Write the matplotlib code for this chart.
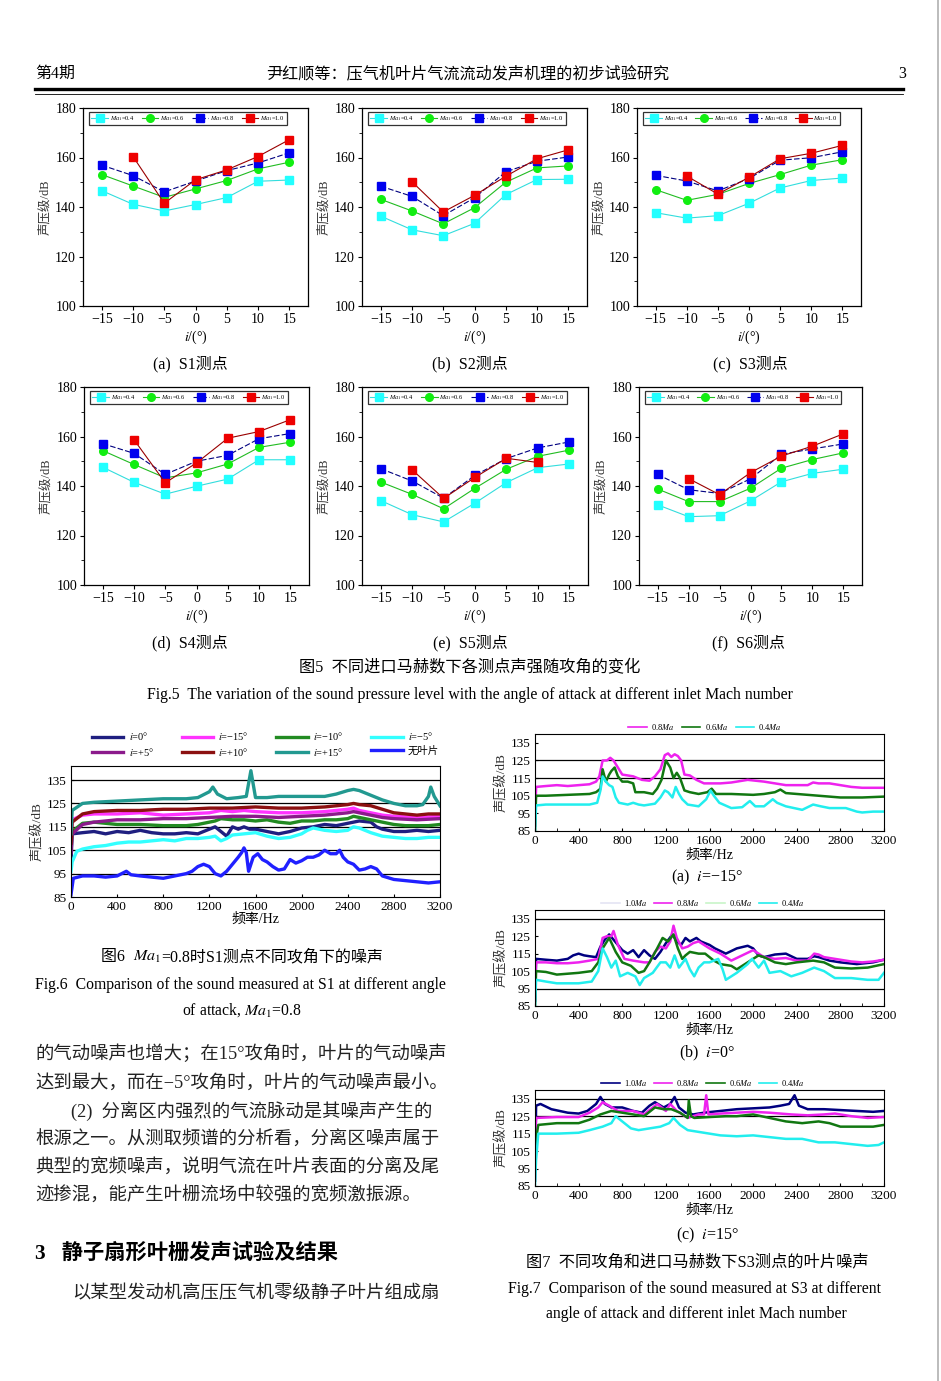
import matplotlib.pyplot as plt
from matplotlib.lines import Line2D
import numpy as np

plt.rcParams['font.family'] = ['Liberation Serif', 'Noto Sans CJK SC']
plt.rcParams['mathtext.fontset'] = 'stix'
plt.rcParams['axes.unicode_minus'] = True

# ---------------- 图5 数据：攻角 - 声压级 ----------------
angles = [-15, -10, -5, 0, 5, 10, 15]
ma_labels = [r'$Ma_1$=0.4', r'$Ma_1$=0.6', r'$Ma_1$=0.8', r'$Ma_1$=1.0']
nan = np.nan

s1_04 = [146.6, 141.1, 138.4, 141.0, 143.8, 150.4, 150.9]
s1_06 = [153.1, 148.5, 143.9, 147.3, 150.7, 155.4, 158.1]
s1_08 = [156.9, 152.7, 146.1, 150.5, 154.7, 157.8, 161.9]
s1_10 = [nan, 160.4, 141.5, 151.0, 155.0, 160.4, 167.2]

s2_04 = [136.3, 130.8, 128.4, 133.4, 145.0, 151.1, 151.2]
s2_06 = [143.1, 138.4, 133.2, 139.7, 150.0, 155.8, 156.6]
s2_08 = [148.4, 144.3, 136.5, 143.7, 154.2, 158.5, 160.2]
s2_10 = [nan, 150.2, 138.0, 144.7, 152.4, 159.5, 163.1]

s3_04 = [137.7, 135.5, 136.5, 141.5, 147.7, 150.7, 151.7]
s3_06 = [147.0, 142.7, 145.1, 149.5, 153.1, 156.9, 159.1]
s3_08 = [152.8, 150.5, 146.5, 151.5, 158.9, 159.9, 162.3]
s3_10 = [nan, 152.5, 145.2, 152.0, 159.5, 161.7, 164.9]

s4_04 = [147.6, 141.5, 136.7, 139.9, 142.8, 150.6, 150.6]
s4_06 = [154.3, 148.7, 143.3, 145.3, 148.9, 155.6, 157.7]
s4_08 = [157.1, 153.2, 144.7, 150.0, 152.4, 159.1, 161.2]
s4_10 = [nan, 158.7, 141.3, 149.3, 159.3, 162.0, 166.8]

s5_04 = [134.1, 128.4, 125.5, 133.1, 141.4, 147.4, 148.9]
s5_06 = [141.6, 136.6, 130.8, 139.1, 146.8, 152.0, 154.5]
s5_08 = [147.0, 142.0, 135.1, 144.3, 151.1, 155.4, 157.8]
s5_10 = [nan, 146.5, 135.0, 143.5, 151.2, 149.5, nan]

s6_04 = [132.4, 127.6, 128.0, 134.0, 141.7, 145.1, 146.8]
s6_06 = [138.8, 133.7, 133.7, 139.1, 147.2, 150.7, 153.4]
s6_08 = [144.7, 138.5, 137.0, 142.9, 152.8, 155.0, 157.0]
s6_10 = [nan, 143.0, 136.5, 145.4, 152.1, 156.1, 161.1]

# ---------------- 图6 数据：Ma1=0.8, S1 不同攻角频谱 ----------------
f6_i0_f = [0, 10, 100, 200, 300, 400, 500, 600, 700, 800, 900, 1000, 1100, 1150, 1200, 1250, 1300, 1350,
           1400, 1450, 1500, 1550, 1600, 1700, 1800, 1900, 2000, 2100, 2200, 2300, 2400, 2450, 2500, 2600,
           2650, 2700, 2800, 2900, 3000, 3100, 3200]
f6_i0_db = [100, 112, 112.5, 113, 112, 113, 112.5, 113.5, 112.5, 112, 112, 112.5, 112, 113, 114, 115, 113,
            111, 115, 114, 115, 114, 114, 113, 112, 113, 114.5, 115, 116, 115.5, 116.5, 117, 117.5, 117,
            115, 114, 113, 113, 113.5, 113, 113.5]
f6_m15_f = [0, 10, 100, 200, 400, 600, 800, 1000, 1200, 1300, 1400, 1500, 1600, 1800, 2000, 2200, 2400,
            2450, 2500, 2600, 2700, 2800, 3000, 3200]
f6_m15_db = [110, 118, 120, 120.5, 120.5, 121, 120, 120.5, 121, 122, 121.5, 122, 121.5, 121, 121, 121.5,
             122.5, 123, 122, 121, 120, 119.5, 119, 119.5]
f6_m10_f = [0, 10, 100, 200, 300, 400, 600, 800, 1000, 1100, 1200, 1250, 1300, 1400, 1500, 1600, 1700,
            1800, 1900, 2000, 2100, 2200, 2300, 2400, 2450, 2500, 2600, 2700, 2800, 2900, 3000, 3100, 3200]
f6_m10_db = [106, 113, 116.5, 117, 116.5, 116, 116, 115.5, 115.5, 116, 117, 117.5, 118.5, 118, 118, 117.5,
             118, 117, 116.5, 117.5, 117.5, 118, 118, 118.5, 119.5, 119, 118, 117, 116, 115.5, 115.5,
             115.5, 116]
f6_m5_f = [0, 10, 50, 100, 200, 300, 400, 500, 600, 700, 800, 900, 1000, 1100, 1200, 1250, 1300, 1350, 1400,
           1500, 1600, 1700, 1800, 1900, 2000, 2050, 2100, 2200, 2300, 2400, 2450, 2500, 2550, 2600, 2700,
           2800, 2900, 3000, 3100, 3200]
f6_m5_db = [96, 100, 104.5, 105.5, 106.5, 107, 108, 108.5, 108.5, 109, 109.5, 109, 110, 110, 110.5, 111,
            109, 110, 111.5, 112, 112.5, 111, 110, 110.5, 112, 113.5, 114.5, 113.5, 113, 113.5, 115, 114.5,
            113.5, 112.5, 111, 110.5, 110, 110, 110.5, 110.5]
f6_p5_f = [0, 10, 100, 200, 300, 400, 600, 800, 1000, 1200, 1400, 1600, 1800, 2000, 2200, 2400, 2450, 2500,
           2600, 2700, 2800, 3000, 3200]
f6_p5_db = [104, 112, 116, 117, 117.5, 118, 118, 118.5, 118.5, 119, 119.5, 119.5, 119, 119.5, 120, 121,
            121.5, 121, 120, 119, 118.5, 118, 118.5]
f6_p10_f = [0, 10, 100, 200, 400, 600, 800, 1000, 1200, 1400, 1600, 1800, 2000, 2200, 2300, 2400, 2450,
            2500, 2600, 2700, 2800, 2900, 3000, 3100, 3200]
f6_p10_db = [108, 117, 120.5, 121.5, 122, 122, 122.5, 122.5, 123, 123, 123.5, 123, 123, 123.5, 124, 124.5,
             125, 124.5, 124, 122.5, 121, 120.5, 120, 120.5, 120.5]
f6_p15_f = [0, 10, 100, 200, 400, 600, 800, 1000, 1100, 1200, 1230, 1270, 1350, 1450, 1520, 1560, 1600,
            1700, 1800, 2000, 2200, 2300, 2400, 2450, 2500, 2550, 2600, 2700, 2800, 2900, 3000, 3050, 3100,
            3120, 3150, 3200]
f6_p15_db = [112, 122, 125, 125.5, 126, 126.5, 127, 127, 127.5, 130, 132, 129, 127, 127.5, 128, 139, 127.5,
             127.5, 128, 128, 128, 129, 130.5, 131, 130.5, 129.5, 128.5, 126.5, 125, 124, 124, 124.5, 128,
             132, 128, 124]
f6_nb_f = [0, 20, 100, 200, 300, 400, 480, 520, 600, 700, 800, 900, 1000, 1050, 1100, 1150, 1200, 1250,
           1300, 1350, 1400, 1450, 1480, 1500, 1520, 1540, 1580, 1620, 1660, 1700, 1750, 1800, 1850, 1900,
           1950, 2000, 2050, 2100, 2150, 2200, 2250, 2300, 2330, 2360, 2400, 2450, 2500, 2550, 2600, 2650,
           2700, 2800, 2900, 3000, 3100, 3200]
f6_nb_db = [86, 93, 94, 94, 93.5, 94, 96, 94.5, 94, 93.5, 93, 94, 95, 96, 98, 99, 98, 95, 94, 96, 99, 102,
            104, 106, 104, 96, 102, 103.5, 101, 100, 98, 96.5, 97, 101, 99.5, 100.5, 102, 102, 103, 105,
            103.5, 103.5, 105, 102, 100, 99, 96.5, 97, 98, 97, 94, 92.5, 92, 91.5, 91, 91.5]
f6_labels = [r'$i$=0°', r'$i$=−15°', r'$i$=−10°', r'$i$=−5°',
             r'$i$=+5°', r'$i$=+10°', r'$i$=+15°', '无叶片']

# ---------------- 图7 数据：S3 不同马赫数频谱 ----------------
a08_f = [0, 10, 100, 200, 300, 400, 500, 560, 590, 620, 660, 690, 720, 760, 800, 850, 900, 980, 1050, 1100,
         1150, 1190, 1220, 1250, 1280, 1310, 1340, 1370, 1420, 1480, 1550, 1700, 1800, 1950, 2100, 2200,
         2300, 2400, 2500, 2550, 2600, 2700, 2800, 2900, 3000, 3100, 3200]
a08_db = [88, 110, 110.5, 111, 110.5, 111, 111.5, 113, 116, 125, 125, 126.5, 125, 121, 117, 116.5, 116, 114,
          113.5, 116, 120, 128, 129, 127, 128.5, 127.5, 125, 117, 116.5, 114, 112, 112, 112.5, 114, 113,
          112, 111, 111, 111, 112.5, 112, 112, 111, 110, 109.5, 109.5, 109.5]
a06_f = [0, 10, 100, 300, 500, 560, 600, 620, 650, 680, 700, 730, 760, 800, 850, 900, 920, 1000, 1080, 1120,
         1160, 1200, 1240, 1270, 1300, 1330, 1370, 1420, 1500, 1580, 1620, 1660, 1800, 2000, 2100, 2200,
         2250, 2300, 2400, 2600, 2800, 3000, 3200]
a06_db = [85, 105, 105, 105.5, 106, 107, 109, 120, 113, 117, 119, 121, 116, 113, 113, 112, 107, 107, 106,
          109, 114, 125, 121, 115, 118, 115, 108, 107, 106, 107, 109, 106, 106, 105.5, 106, 107, 108.5,
          106.5, 106, 105, 104, 104, 104.5]
a04_f = [0, 10, 100, 300, 500, 570, 600, 620, 650, 680, 710, 740, 770, 850, 900, 950, 1000, 1100, 1150,
         1190, 1220, 1260, 1290, 1320, 1350, 1400, 1500, 1570, 1610, 1640, 1690, 1800, 1900, 1970, 2020,
         2100, 2180, 2220, 2300, 2450, 2550, 2620, 2700, 2850, 2950, 3000, 3100, 3200]
a04_db = [85, 99.5, 100, 100, 100, 101, 108, 116, 113, 111, 110, 104, 101, 100, 101, 100, 99.5, 100.5, 104,
          108, 107, 104, 110, 106, 103, 100, 99, 103, 108, 105, 101, 98, 98.5, 102, 99, 99, 103, 101, 99,
          97, 100, 99, 98, 98, 96, 95.5, 96, 96]

b10_f = [0, 10, 100, 200, 300, 350, 400, 450, 500, 560, 600, 640, 680, 720, 760, 800, 850, 900, 950, 1000,
         1050, 1100, 1150, 1200, 1260, 1300, 1340, 1380, 1420, 1480, 1520, 1600, 1650, 1750, 1850, 1950,
         2000, 2050, 2100, 2200, 2300, 2400, 2500, 2560, 2600, 2700, 2800, 2950, 3100, 3200]
b10_db = [88, 112, 111.5, 111, 112, 114, 115, 114, 113.5, 113, 119, 123, 126, 123, 120, 117, 115, 117, 113,
          117, 114, 112, 116, 121, 126, 122, 120, 124, 122, 124, 122, 120, 118, 115, 118, 119.5, 118, 114,
          113, 114.5, 115, 112, 112, 113.5, 113, 111, 110, 109, 110, 111.5]
b08_f = [0, 10, 100, 200, 300, 400, 500, 580, 620, 660, 700, 720, 760, 820, 900, 1000, 1050, 1100, 1150,
         1200, 1240, 1270, 1300, 1350, 1400, 1450, 1500, 1600, 1700, 1800, 1900, 2000, 2100, 2200, 2300,
         2400, 2500, 2560, 2600, 2650, 2750, 2900, 3000, 3100, 3200]
b08_db = [88, 110, 110, 109.5, 109.5, 110, 111, 112, 124, 125, 125, 128, 120, 112, 111, 110, 110, 116, 119,
          118, 122, 131, 124, 118, 119, 121, 122, 118, 115, 111, 114, 117, 113, 112, 112.5, 111, 111, 115,
          114.5, 113, 112, 110.5, 110, 110.5, 111.5]
b06_f = [0, 10, 100, 200, 300, 400, 520, 580, 620, 680, 740, 800, 880, 950, 1000, 1050, 1120, 1170, 1220,
         1270, 1310, 1350, 1380, 1420, 1500, 1560, 1640, 1700, 1800, 1850, 1950, 2050, 2100, 2200, 2300,
         2400, 2550, 2650, 2750, 2900, 3050, 3200]
b06_db = [85, 105, 104.5, 103, 103.5, 104, 105, 110, 118, 124, 116, 110, 108, 104, 105, 110, 118, 124, 122,
          126, 118, 112, 114, 116, 115, 115, 111, 109, 108, 106, 110, 114, 113, 110, 109, 110, 111, 110,
          107, 106.5, 107, 109]
b04_f = [0, 10, 100, 200, 300, 400, 520, 580, 620, 660, 700, 740, 780, 850, 920, 960, 1000, 1080, 1150,
         1200, 1240, 1280, 1320, 1380, 1420, 1460, 1500, 1550, 1600, 1680, 1720, 1750, 1850, 1950, 1990,
         2050, 2100, 2150, 2250, 2350, 2450, 2560, 2650, 2750, 2900, 3050, 3150, 3200]
b04_db = [85, 100, 99, 98, 98, 98, 99, 105, 118, 113, 107, 111, 102, 104, 102, 97, 101, 104, 110, 110, 107,
          114, 107, 112, 106, 102, 107, 110, 110, 112, 106, 100, 104, 109, 112, 107, 111, 104, 105, 102,
          104, 107, 105, 101, 101, 100, 100, 104]

c10_f = [0, 10, 50, 150, 300, 400, 480, 560, 600, 640, 700, 800, 900, 980, 1050, 1100, 1180, 1240, 1280,
         1320, 1380, 1450, 1550, 1700, 1850, 2000, 2150, 2250, 2330, 2380, 2420, 2500, 2650, 2800, 2950,
         3100, 3200]
c10_db = [88, 131, 132, 129, 127, 126.5, 128, 132, 136, 132, 130, 130, 128, 127, 131, 133, 130, 132, 136,
          130, 127, 126, 127, 128, 129, 129.5, 130, 131, 132, 137, 131, 129, 129, 128.5, 128, 127.5, 128]
c08_f = [0, 10, 200, 400, 500, 580, 620, 680, 760, 900, 1000, 1080, 1120, 1200, 1240, 1300, 1400, 1500,
         1550, 1570, 1590, 1700, 1850, 2000, 2150, 2350, 2500, 2650, 2750, 2900, 3050, 3200]
c08_db = [110, 124, 124.5, 124.5, 127, 130, 133, 131, 128, 128, 126, 130, 132, 128, 132, 128, 124, 126,
          126, 137, 126, 126.5, 127, 127.5, 127, 126, 125.5, 126, 126.5, 125, 124, 124.5]
c06_f = [0, 10, 30, 200, 400, 500, 600, 700, 800, 900, 1000, 1100, 1180, 1250, 1330, 1400, 1410, 1430,
         1460, 1600, 1750, 1850, 2000, 2150, 2300, 2450, 2600, 2700, 2800, 2950, 3100, 3200]
c06_db = [106, 112, 120, 121, 121, 123, 126, 128, 127, 126, 125, 130, 129, 129, 127, 124, 134, 125, 124,
          124.5, 125, 125, 126, 124, 122, 121, 122, 121, 119, 119, 119, 120]
c04_f = [0, 10, 30, 200, 400, 500, 620, 700, 740, 800, 880, 950, 1050, 1150, 1230, 1270, 1330, 1400, 1500,
         1600, 1700, 1850, 2000, 2150, 2300, 2450, 2600, 2750, 2900, 3050, 3150, 3200]
c04_db = [86, 100, 115, 115, 115.5, 117, 119, 121, 125, 122, 118, 117, 118, 119, 121, 124, 120, 117, 116,
          115, 114, 113.5, 114, 113, 112, 112, 110, 110, 109, 108, 108.5, 110]

W, H = 941, 1381
fig = plt.figure(figsize=(W / 100, H / 100), dpi=100)
renderer = fig.canvas.get_renderer()


def box(l, t, r, b):
    return fig.add_axes([l / W, 1 - b / H, (r - l) / W, (b - t) / H])


def put(x, y, s, **kw):
    kw.setdefault('ha', 'left')
    kw.setdefault('va', 'center')
    fig.text(x / W, 1 - y / H, s, **kw)


def put_runs(xc, y, runs, fontsize):
    # 中文与数学公式分段排版，居中，按基线对齐
    texts = [fig.text(0, 1 - (y + 4) / H, s, fontsize=fontsize, va='baseline', ha='left') for s in runs]
    widths = [t.get_window_extent(renderer).width for t in texts]
    x = xc - sum(widths) / 2
    for t, w in zip(texts, widths):
        t.set_x(x / W)
        x += w


def hline(x0, x1, y, lw, color='k'):
    fig.add_artist(Line2D([x0 / W, x1 / W], [1 - y / H] * 2, lw=lw, color=color))


# 页眉
put(35, 74, '第4期', fontsize=11.5)
put(468, 74, '尹红顺等：压气机叶片气流流动发声机理的初步试验研究', ha='center', fontsize=11.6)
put(898, 74, '3', fontsize=11.5)
hline(35, 903, 89, 2.4)
hline(35, 903, 93.5, 0.6)
fig.add_artist(Line2D([938 / W] * 2, [0, 1], lw=1.2, color='#b0b0b0'))

# ---------------- 图5 ----------------
sweep_style = [('#22ffff', '#33dddd', '-', 's'),
               ('#11ee11', '#22bb22', '-', 'o'),
               ('#0000ee', '#000080', (0, (5, 2)), 's'),
               ('#ee0000', '#990000', '-', 's')]


def sweep(ax, series):
    for vals, (mc, lc, ls, mk), lab in zip(series, sweep_style, ma_labels):
        ax.plot(angles, vals, color=lc, ls=ls, lw=0.8, marker=mk, ms=5.5, mfc=mc, mec=mc, label=lab)
    ax.set_xlim(-18, 18)
    ax.set_ylim(100, 180)
    ax.set_xticks(angles)
    ax.set_yticks(range(100, 181, 20))
    ax.set_yticks(range(110, 180, 20), minor=True)
    ax.tick_params(direction='out', length=3, labelsize=10, pad=2)
    ax.tick_params(which='minor', direction='out', length=2)
    ax.set_xlabel(r'$i$/(°)', fontsize=10, labelpad=2)
    ax.set_ylabel('声压级/dB', fontsize=9, color='#333333', labelpad=3)
    leg = ax.legend(ncol=4, loc='upper left', bbox_to_anchor=(0.027, 0.92, 0.88, 0.06), mode='expand',
                    fontsize=4.6, frameon=True, fancybox=False, edgecolor='k', handlelength=2.6,
                    handletextpad=0.3, borderpad=0.35, columnspacing=0.4, borderaxespad=0)
    leg.get_frame().set_linewidth(0.9)
    for sp in ax.spines.values():
        sp.set_linewidth(0.9)


panels = [((83, 108, 308, 306), [s1_04, s1_06, s1_08, s1_10], '(a)  S1测点', 190, 364),
          ((362, 108, 587, 306), [s2_04, s2_06, s2_08, s2_10], '(b)  S2测点', 470, 364),
          ((637, 108, 861, 306), [s3_04, s3_06, s3_08, s3_10], '(c)  S3测点', 750, 364),
          ((84, 387, 309, 585), [s4_04, s4_06, s4_08, s4_10], '(d)  S4测点', 190, 643),
          ((362, 387, 588, 585), [s5_04, s5_06, s5_08, s5_10], '(e)  S5测点', 470, 643),
          ((639, 387, 862, 585), [s6_04, s6_06, s6_08, s6_10], '(f)  S6测点', 748, 643)]
for rect, series, cap, cx, cy in panels:
    sweep(box(*rect), series)
    put(cx, cy, cap, ha='center', fontsize=11.5)

put(470, 668, '图5  不同进口马赫数下各测点声强随攻角的变化', ha='center', fontsize=11.7)
put(470, 695, 'Fig.5  The variation of the sound pressure level with the angle of attack at different inlet '
    'Mach number', ha='center', fontsize=11.3)

# ---------------- 图6 ----------------
ax6 = box(71, 766, 440, 897)
f6_series = [(f6_i0_f, f6_i0_db, '#1f1f80'), (f6_m15_f, f6_m15_db, '#ff33ff'),
             (f6_m10_f, f6_m10_db, '#228b22'), (f6_m5_f, f6_m5_db, '#33ffff'),
             (f6_p5_f, f6_p5_db, '#8b1a8b'), (f6_p10_f, f6_p10_db, '#8b1010'),
             (f6_p15_f, f6_p15_db, '#229990'), (f6_nb_f, f6_nb_db, '#2020ff')]
h6 = []
for (fx, db, col), lab in zip(f6_series, f6_labels):
    ln, = ax6.plot(fx, db, color=col, lw=2.4, label=lab)
    h6.append(ln)
ax6.set_xlim(0, 3200)
ax6.set_ylim(85, 141)
ax6.set_xticks(range(0, 3201, 400))
ax6.set_yticks(range(85, 136, 10))
for yv in range(95, 136, 10):
    ax6.axhline(yv, color='k', lw=0.9, zorder=0)
ax6.tick_params(direction='in', length=2, labelsize=9.5, pad=3)
ax6.set_xlabel('频率/Hz', fontsize=10, labelpad=0)
ax6.set_ylabel('声压级/dB', fontsize=9.5, color='#333333', labelpad=2)
order = [0, 4, 1, 5, 2, 6, 3, 7]
ax6.legend([h6[k] for k in order], [f6_labels[k] for k in order], ncol=4, loc='lower left',
           bbox_to_anchor=(88 / W, 1 - 762 / H, 355 / W, 36 / H), bbox_transform=fig.transFigure,
           mode='expand', frameon=False, fontsize=7.5, handlelength=3.0, handletextpad=0.5,
           borderaxespad=0, labelspacing=0.35)
put_runs(242, 957, ['图6  ', r'$Ma_1$', '=0.8时S1测点不同攻角下的噪声'], 11.5)
put(240, 985, 'Fig.6  Comparison of the sound measured at S1 at different angle', ha='center', fontsize=11.3)
put(242, 1010, r'of attack, $Ma_1$=0.8', ha='center', fontsize=11.3)

# ---------------- 正文 ----------------
body = [(35, 1054, '的气动噪声也增大；在15°攻角时，叶片的气动噪声'),
        (35, 1083, '达到最大，而在−5°攻角时，叶片的气动噪声最小。'),
        (71, 1111, '(2)  分离区内强烈的气流脉动是其噪声产生的'),
        (35, 1140, '根源之一。从测取频谱的分析看，分离区噪声属于'),
        (35, 1168, '典型的宽频噪声，说明气流在叶片表面的分离及尾'),
        (35, 1196, '迹掺混，能产生叶栅流场中较强的宽频激振源。'),
        (72, 1293, '以某型发动机高压压气机零级静子叶片组成扇')]
for x, y, s in body:
    put(x, y, s, fontsize=13.2, color='#222222')
put(35, 1254, '3   静子扇形叶栅发声试验及结果', fontsize=15.3, fontweight='bold')

# ---------------- 图7 ----------------
c_navy, c_mag, c_grn, c_cyan = '#000080', '#ee22ee', '#117711', '#22eeee'
f7_panels = [((535, 734, 884, 831), [(a08_f, a08_db, c_mag), (a06_f, a06_db, c_grn), (a04_f, a04_db, c_cyan)],
              ['0.8$Ma$', '0.6$Ma$', '0.4$Ma$'], [c_mag, c_grn, c_cyan], (625, 160), 727,
              [115, 125], r'(a)  $i$=−15°', 877),
             ((535, 910, 884, 1006), [(b10_f, b10_db, c_navy), (b08_f, b08_db, c_mag),
                                      (b06_f, b06_db, c_grn), (b04_f, b04_db, c_cyan)],
              ['1.0$Ma$', '0.8$Ma$', '0.6$Ma$', '0.4$Ma$'], ['#e4e4f4', c_mag, '#c8f5c8', c_cyan],
              (598, 210), 903, [95, 135], r'(b)  $i$=0°', 1053),
             ((535, 1090, 884, 1186), [(c10_f, c10_db, c_navy), (c08_f, c08_db, c_mag),
                                       (c06_f, c06_db, c_grn), (c04_f, c04_db, c_cyan)],
              ['1.0$Ma$', '0.8$Ma$', '0.6$Ma$', '0.4$Ma$'], [c_navy, c_mag, c_grn, c_cyan],
              (598, 210), 1083, [125, 135], r'(c)  $i$=15°', 1235)]
for rect, series, labs, lcols, (lx, lw_), ly, grid, cap, cy in f7_panels:
    ax = box(*rect)
    for fx, db, col in series:
        ax.plot(fx, db, color=col, lw=1.8)
    for yv in grid:
        ax.axhline(yv, color='k', lw=0.9, zorder=0)
    ax.set_xlim(0, 3200)
    ax.set_ylim(85, 140)
    ax.set_xticks(range(0, 3201, 400))
    ax.set_xticks(range(200, 3200, 400), minor=True)
    ax.set_yticks(range(85, 136, 10))
    ax.tick_params(direction='in', length=2, labelsize=9.5, pad=3)
    ax.tick_params(which='minor', direction='in', length=2)
    ax.set_xlabel('频率/Hz', fontsize=10, labelpad=1)
    ax.set_ylabel('声压级/dB', fontsize=9.5, color='#333333', labelpad=2)
    hs = [Line2D([], [], color=c, lw=1.2) for c in lcols]
    ax.legend(hs, labs, ncol=len(labs), loc='center left',
              bbox_to_anchor=(lx / W, 1 - (ly + 6) / H, lw_ / W, 12 / H), bbox_transform=fig.transFigure,
              mode='expand', frameon=False, fontsize=6, handlelength=2.2, handletextpad=0.5,
              borderaxespad=0)
    put(707, cy, cap, ha='center', fontsize=11.5)

put(697, 1262, '图7  不同攻角和进口马赫数下S3测点的叶片噪声', ha='center', fontsize=11.7)
put(694, 1289, 'Fig.7  Comparison of the sound measured at S3 at different', ha='center', fontsize=11.3)
put(696, 1314, 'angle of attack and different inlet Mach number', ha='center', fontsize=11.3)

fig.savefig('out.png', dpi=100, facecolor='white')
